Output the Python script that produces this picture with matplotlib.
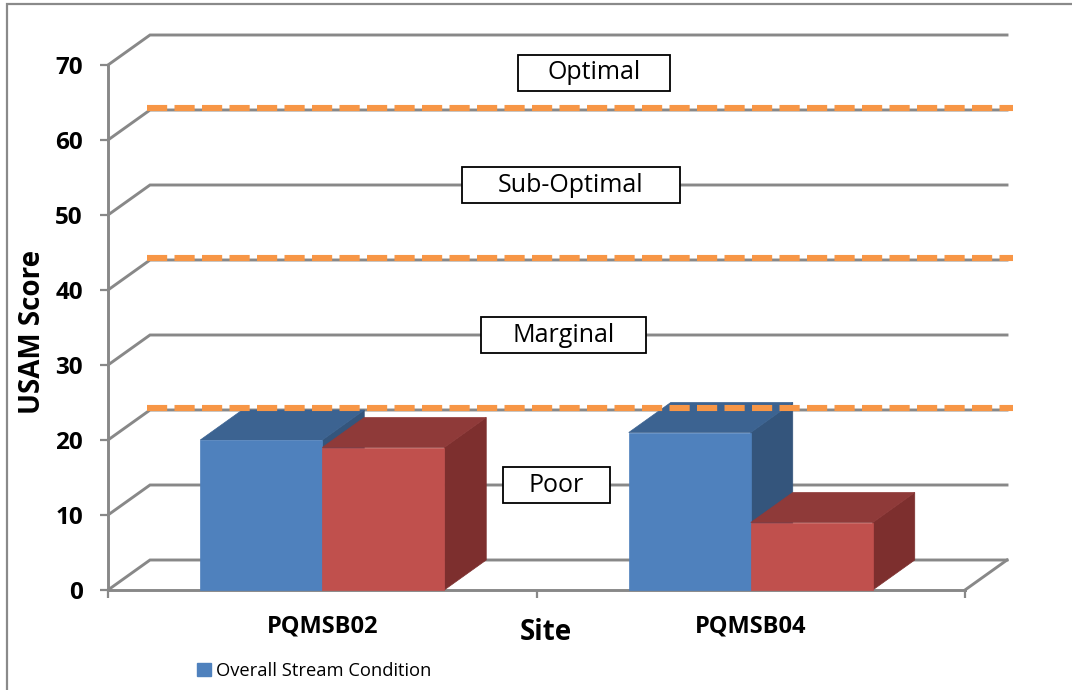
import matplotlib
matplotlib.use("Agg")
import matplotlib.pyplot as plt
from matplotlib.patches import Polygon, Rectangle, Patch

# ---- data ----
sites = ["PQMSB02", "PQMSB04"]
overall_condition = [20, 21]      # blue series (in legend)
second_series = [19, 9]           # red series
band_limits = [20, 40, 60]        # class boundaries
band_names = ["Poor", "Marginal", "Sub-Optimal", "Optimal"]
y_ticks = [0, 10, 20, 30, 40, 50, 60, 70]

# ---- styling ----
FONT = "Open Sans"
plt.rcParams["font.family"] = [FONT, "DejaVu Sans"]
GRID = "#888888"
BLUE = ("#4f81bd", "#3c6391", "#34557c")   # front, top, side
RED = ("#c0504d", "#8f3a39", "#7d2f2e")
ORANGE = "#f79646"

W, H = 1072, 690
fig = plt.figure(figsize=(W / 100, H / 100), dpi=100)

# front plane of the 3-D box: x 108..965 px, y 0 at 590 px, 70 at 65 px
px_left, px_right, px_top, px_bottom = 108, 965, 65, 590
ax = fig.add_axes([px_left / W, 1 - px_bottom / H,
                   (px_right - px_left) / W, (px_bottom - px_top) / H])
ax.set_xlim(0, 2)
ax.set_ylim(0, 70)
ax.patch.set_visible(False)

xunit = (px_right - px_left) / 2.0        # px per category
yunit = (px_bottom - px_top) / 70.0       # px per score unit
DX = 42 / xunit                           # depth offset (right)
DY = 30 / yunit                           # depth offset (up)

# outer chart frame
fig.patches.append(Rectangle((7 / W, -0.05), 1.1, 1 - 4 / H + 0.05,
                             transform=fig.transFigure, fill=False,
                             edgecolor="#8a8a8a", linewidth=1.6))

# back wall gridlines + left wall diagonals
for v in y_ticks:
    ax.plot([0, DX, 2 + DX], [v, v + DY, v + DY], color=GRID, lw=2.1,
            solid_joinstyle="miter", clip_on=False, zorder=1)
# floor right edge
ax.plot([2, 2 + DX], [0, DY], color=GRID, lw=2.1, clip_on=False, zorder=1)

# axes (front edges)
for s in ["top", "right"]:
    ax.spines[s].set_visible(False)
for s in ["left", "bottom"]:
    ax.spines[s].set_color(GRID)
    ax.spines[s].set_linewidth(2.1)
    ax.spines[s].set_zorder(1.5)
ax.set_yticks(y_ticks)
ax.set_yticklabels([str(t) for t in y_ticks], fontsize=17.5, fontweight="bold")
ax.tick_params(axis="y", direction="out", length=6, width=1.6, color=GRID, pad=12)
ax.set_xticks([0, 1, 2])
ax.set_xticklabels([])
ax.tick_params(axis="x", which="major", direction="out", length=6, width=1.6, color=GRID)
ax.set_xticks([0.5, 1.5], minor=True)
ax.set_xticklabels(sites, minor=True, fontsize=17, fontweight="bold")
ax.tick_params(axis="x", which="minor", length=0, pad=18)


def box3d(xl, xr, h, colors, z):
    front, top, side = colors
    faces = [
        ([(xr, 0), (xr + DX, DY), (xr + DX, h + DY), (xr, h)], side),
        ([(xl, h), (xr, h), (xr + DX, h + DY), (xl + DX, h + DY)], top),
        ([(xl, 0), (xr, 0), (xr, h), (xl, h)], front),
    ]
    for pts, c in faces:
        ax.add_patch(Polygon(pts, closed=True, facecolor=c, edgecolor=c,
                             linewidth=0.5, zorder=z, clip_on=False))


bar_w = 122 / xunit
for i, (b, r) in enumerate(zip(overall_condition, second_series)):
    c = i + 0.5
    box3d(c - bar_w, c, b, BLUE, 3 + i)
    box3d(c, c + bar_w, r, RED, 3.5 + i)

# class boundary lines on the back wall
for lim in band_limits:
    ax.plot([DX - 0.007, 2 + DX + 0.014], [lim + DY + 0.3] * 2, color=ORANGE,
            lw=4.4, dashes=(3.3, 1.2), dash_capstyle="butt",
            clip_on=False, zorder=10)

# class name boxes, centred in each band on the back wall
band_edges = [0] + band_limits + [70]
box_x = [556.5, 563.5, 571, 594]          # px centres
box_w = [107, 165, 218, 152]              # px widths
box_h = 36
for name, lo, hi, bx, bw in zip(band_names, band_edges[:-1], band_edges[1:],
                                box_x, box_w):
    cy = (lo + hi) / 2 + DY
    cx = (bx - px_left) / xunit
    w, h = bw / xunit, box_h / yunit
    ax.add_patch(Rectangle((cx - w / 2, cy - h / 2), w, h, facecolor="white",
                           edgecolor="black", linewidth=1.3, zorder=8,
                           clip_on=False))
    ax.text(cx, cy, name, ha="center", va="center", fontsize=18,
            zorder=9, clip_on=False)

# axis titles
ax.set_xlabel("Site", fontsize=20, fontweight="bold")
ax.xaxis.set_label_coords((546 - px_left) / (px_right - px_left),
                          -(633 - px_bottom) / (px_bottom - px_top))
ax.xaxis.label.set_va("center")
ax.set_ylabel("USAM Score", fontsize=20, fontweight="bold")
ax.yaxis.set_label_coords(-(px_left - 33) / (px_right - px_left),
                          (px_bottom - 332) / (px_bottom - px_top))
ax.yaxis.label.set_va("center")

# legend
fig.legend(handles=[Patch(facecolor=BLUE[0], edgecolor=BLUE[0])],
           labels=["Overall Stream Condition"], loc="center left",
           bbox_to_anchor=(197 / W, 1 - 671 / H), frameon=False,
           fontsize=13.2, handlelength=0.75, handleheight=0.7,
           handletextpad=0.3, borderpad=0, borderaxespad=0)

fig.savefig("out.png", dpi=100, facecolor="white")
